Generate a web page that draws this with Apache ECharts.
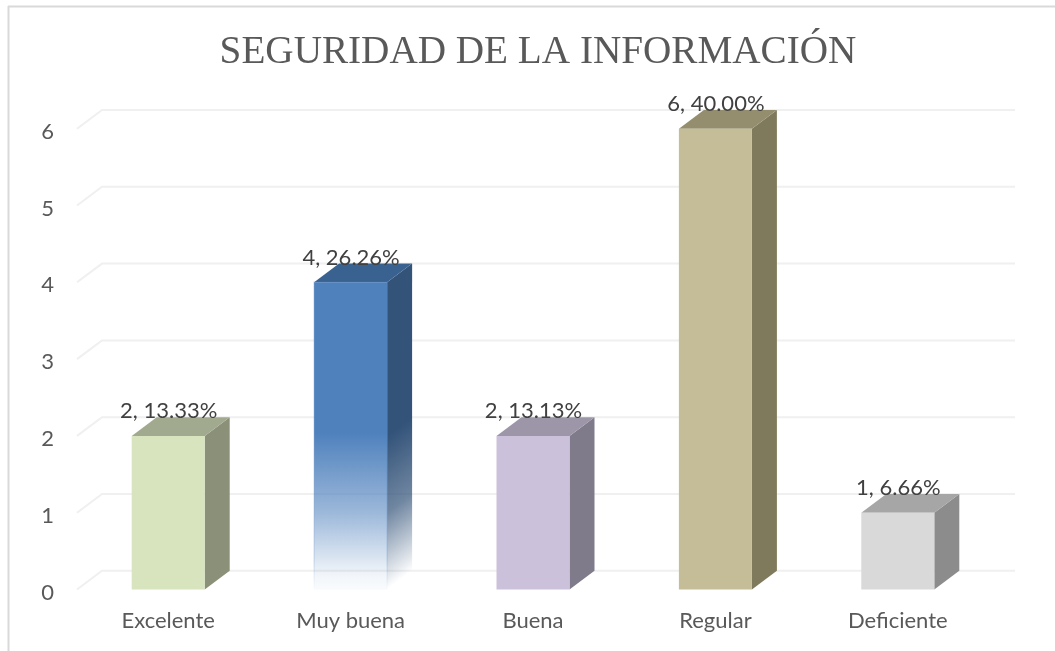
<!DOCTYPE html>
<html>
<head>
<meta charset="utf-8">
<script src="https://cdn.jsdelivr.net/npm/echarts@6/dist/echarts.min.js"></script>
<style>html,body{margin:0;padding:0;background:#fff}#c{width:1055px;height:651px}</style>
</head>
<body>
<div id="c"></div>
<script>
var titleText = 'SEGURIDAD DE LA INFORMACIÓN';
var categories = ['Excelente', 'Muy buena', 'Buena', 'Regular', 'Deficiente'];
var values = [2, 4, 2, 6, 1];
var percents = ['13.33%', '26.26%', '13.13%', '40.00%', '6.66%'];
var yTicks = [0, 1, 2, 3, 4, 5, 6];
var frontColors = ['#d7e4bd', null, '#ccc1da', '#c4bd97', '#d9d9d9'];
var sideColors = ['#8a9178', null, '#7f7b8b', '#7f7a5b', '#8c8c8c'];
var topColors = ['#a1a98e', '#3a6290', '#9d95a8', '#948e6e', '#a6a6a6'];

var DX = 25, DY = -18.7, BAR = 73;

function renderGrid(params, api) {
  var v = api.value(0);
  var band = api.size([1, 0])[0];
  var p = api.coord([0, v]);
  var l = p[0] - band / 2;
  var r = l + band * categories.length;
  return {
    type: 'polyline', silent: true,
    shape: { points: [[l, p[1]], [l + DX, p[1] + DY], [r + DX + 1, p[1] + DY]] },
    style: { fill: null, stroke: '#f0f0f0', lineWidth: 2 }
  };
}

function renderBar(params, api) {
  var i = api.value(0), v = api.value(1);
  var t = api.coord([i, v]), b = api.coord([i, 0]);
  var x0 = t[0] - BAR / 2, x1 = t[0] + BAR / 2, yt = t[1], yb = b[1];
  var blue = frontColors[i] === null;
  var front = frontColors[i], side = sideColors[i];
  var stroke = null;
  if (blue) {
    var H = yb - yt;
    stroke = new echarts.graphic.LinearGradient(0, 0, 0, 1, [
      { offset: 0, color: 'rgba(79,129,189,0.25)' },
      { offset: 0.9, color: 'rgba(79,129,189,0.2)' },
      { offset: 1, color: 'rgba(79,129,189,0)' }
    ]);
    front = new echarts.graphic.LinearGradient(0, 0, 0, 1, [
      { offset: 0, color: 'rgba(79,129,189,1)' },
      { offset: 0.49, color: 'rgba(79,129,189,1)' },
      { offset: 0.75, color: 'rgba(79,129,189,0.56)' },
      { offset: 0.95, color: 'rgba(79,129,189,0.08)' },
      { offset: 1, color: 'rgba(79,129,189,0.03)' }
    ]);
    side = new echarts.graphic.LinearGradient(x1, yt, x1 + 0.48 * H, yt + 0.64 * H, [
      { offset: 0, color: 'rgba(51,83,121,1)' },
      { offset: 0.5, color: 'rgba(51,83,121,1)' },
      { offset: 0.75, color: 'rgba(51,83,121,0.7)' },
      { offset: 0.93, color: 'rgba(51,83,121,0.2)' },
      { offset: 1, color: 'rgba(51,83,121,0)' }
    ], true);
  }
  return {
    type: 'group', silent: true,
    children: [
      { type: 'polygon', shape: { points: [[x1, yt], [x1 + DX, yt + DY], [x1 + DX, yb + DY], [x1, yb]] }, style: { fill: side } },
      { type: 'polygon', shape: { points: [[x0, yt], [x0 + DX, yt + DY], [x1 + DX, yt + DY], [x1, yt]] }, style: { fill: topColors[i] } },
      { type: 'rect', shape: { x: x0, y: yt, width: BAR, height: yb - yt }, style: { fill: front, stroke: stroke, lineWidth: 1.5 } },
      { type: 'text', x: t[0] + 0.5, y: yt + DY + 5, style: {
          text: values[i] + ', ' + percents[i], fill: '#404040',
          font: '22px Lato', align: 'center', verticalAlign: 'bottom' } }
    ]
  };
}

var chart = echarts.init(document.getElementById('c'), null, { renderer: 'canvas' });
chart.setOption({
  animation: false,
  backgroundColor: '#ffffff',
  title: {
    text: titleText, left: 533, top: 28, textAlign: 'center',
    textStyle: { fontFamily: 'Liberation Serif', fontSize: 39.2, fontWeight: 'normal', color: '#595959' }
  },
  grid: { left: 77, width: 912, top: 128.7, height: 460.8 },
  xAxis: {
    type: 'category', data: categories,
    axisLine: { show: false }, axisTick: { show: false }, splitLine: { show: false },
    axisLabel: { fontFamily: 'Lato', fontSize: 22, color: '#595959', margin: 20 }
  },
  yAxis: {
    type: 'value', min: 0, max: 6, interval: 1,
    axisLine: { show: false }, axisTick: { show: false }, splitLine: { show: false },
    axisLabel: { fontFamily: 'Lato', fontSize: 22, color: '#595959', margin: 23, verticalAlign: 'top', lineHeight: 6 }
  },
  graphic: [
    { type: 'line', silent: true, shape: { x1: 8.5, y1: 6, x2: 8.5, y2: 651 }, style: { stroke: '#d9d9d9', lineWidth: 2 } },
    { type: 'line', silent: true, shape: { x1: 8, y1: 6.5, x2: 1055, y2: 6.5 }, style: { stroke: '#d9d9d9', lineWidth: 2 } }
  ],
  series: [
    { type: 'custom', name: 'grid', clip: false, z: 1, renderItem: renderGrid, data: yTicks.map(function (t) { return [t]; }), encode: { y: 0 } },
    { type: 'custom', name: 'bars', clip: false, z: 2, renderItem: renderBar, data: values.map(function (v, i) { return [i, v]; }), encode: { x: 0, y: 1 } }
  ]
});
</script>
</body>
</html>
